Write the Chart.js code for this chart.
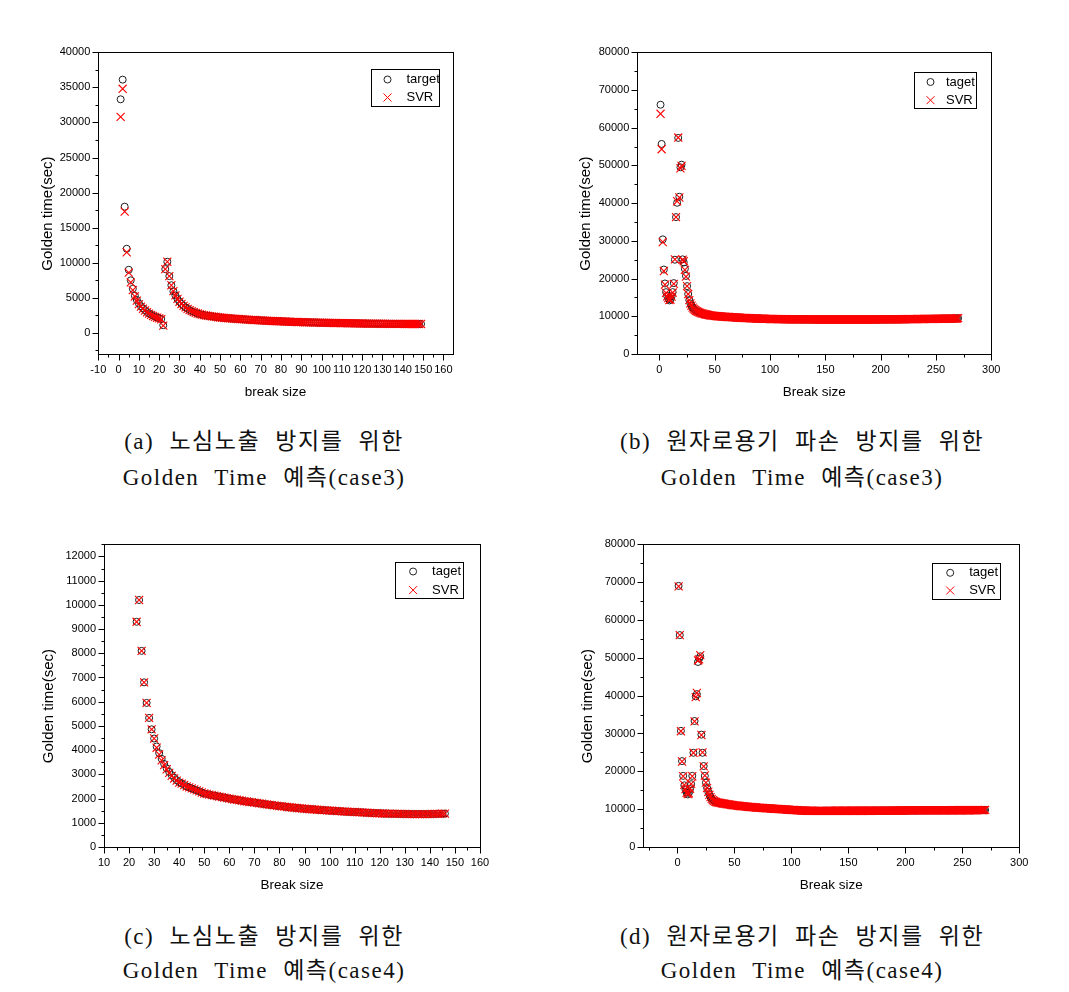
<!DOCTYPE html>
<html>
<head>
<meta charset="utf-8">
<script src="https://cdn.jsdelivr.net/npm/chart.js@4.4.0/dist/chart.umd.min.js"></script>
<style>
  body { margin: 0; background: #fff; width: 1069px; height: 992px; position: relative; overflow: hidden; }
  .panel { position: absolute; }
  .cap {
    position: absolute; width: 520px; margin-left: -260px; text-align: center;
    font-family: "Liberation Serif", "Noto Sans CJK KR", serif; font-size: 23px;
    letter-spacing: 1.5px; word-spacing: 8px; color: #111;
  }
</style>
</head>
<body>
<div class="panel" style="left:25px;top:40px"><canvas id="chartA" width="445" height="375"></canvas></div>
<div class="panel" style="left:565px;top:40px"><canvas id="chartB" width="445" height="375"></canvas></div>
<div class="panel" style="left:25px;top:530px"><canvas id="chartC" width="470" height="375"></canvas></div>
<div class="panel" style="left:565px;top:530px"><canvas id="chartD" width="470" height="375"></canvas></div>

<div class="cap" style="left:264px;top:424px;line-height:36px">(a) 노심노출 방지를 위한<br>Golden Time 예측(case3)</div>
<div class="cap" style="left:802px;top:424px;line-height:36px">(b) 원자로용기 파손 방지를 위한<br>Golden Time 예측(case3)</div>
<div class="cap" style="left:264px;top:920px;line-height:34px">(c) 노심노출 방지를 위한<br>Golden Time 예측(case4)</div>
<div class="cap" style="left:802px;top:920px;line-height:34px">(d) 원자로용기 파손 방지를 위한<br>Golden Time 예측(case4)</div>

<script>
// break sizes are consecutive integers
const range = (from, to) => {
  const out = [];
  for (let v = from; v <= to; v++) out.push(v);
  return out;
};

// ---- (a) core exposure, case3 ----
const aHeadTarget = [33300, 36100, 18000, 12000, 9000, 7500, 6300, 5300, 4700, 4200, 3800,
  3500, 3250, 3000, 2800, 2600, 2450, 2300, 2200, 2100, 2000, 1100];
const aHeadSVR = [30800, 34800, 17300, 11500, 8600, 7200, 6100, 5200, 4600, 4100, 3750,
  3450, 3200, 2950, 2750, 2570, 2420, 2280, 2170, 2080, 1950, 1050];
const aTail = [9100, 10150, 8100, 6800, 5950, 5350, 4850, 4450,
  4130, 3870, 3640, 3440, 3260, 3110, 2980, 2870, 2770, 2680,
  2610, 2550, 2490, 2440, 2400, 2360, 2320, 2280, 2240, 2200,
  2170, 2140, 2110, 2090, 2070, 2050, 2030, 2010, 1990, 1970,
  1950, 1930, 1910, 1890, 1870, 1850, 1840, 1820, 1800, 1790,
  1770, 1760, 1740, 1730, 1710, 1700, 1690, 1670, 1660, 1650,
  1640, 1630, 1610, 1600, 1590, 1580, 1570, 1560, 1550, 1540,
  1530, 1520, 1510, 1510, 1500, 1490, 1480, 1470, 1470, 1460,
  1450, 1450, 1440, 1430, 1430, 1420, 1420, 1410, 1400, 1400,
  1390, 1390, 1380, 1380, 1370, 1370, 1360, 1360, 1350, 1350,
  1340, 1340, 1340, 1330, 1330, 1320, 1320, 1320, 1310, 1310,
  1310, 1300, 1300, 1300, 1300, 1290, 1290, 1290, 1290, 1290,
  1280, 1280, 1280, 1280, 1280, 1280, 1280, 1280, 1280];
const aX = range(1, 149);
const aTarget = aHeadTarget.concat(aTail);
const aSVR = aHeadSVR.concat(aTail);
const aXTicks = [-10, 0, 10, 20, 30, 40, 50, 60, 70, 80, 90, 100, 110, 120, 130, 140, 150, 160];
const aYTicks = [0, 5000, 10000, 15000, 20000, 25000, 30000, 35000, 40000];

// ---- (b) vessel failure, case3 ----
const bHeadTarget = [66100, 55700, 30400, 22400, 18700, 16400, 15400, 14700, 14200, 14500, 15300, 16400,
  18800, 25000, 36300, 40100, 57300, 41700, 49500, 50200, 25100, 24300, 22600, 20700];
const bHeadSVR = [63700, 54300, 29700, 22000, 18400, 16200, 15300, 14800, 14300, 14400, 15200, 16300,
  18600, 25100, 36300, 40500, 57400, 41500, 49200, 49900, 25000, 24600, 22300, 20500];
const bTail = [18000, 15900, 14300, 13400, 12800, 12300,
  11950, 11700, 11480, 11300, 11150, 11020, 10900, 10800, 10700, 10620,
  10550, 10480, 10420, 10360, 10310, 10260, 10210, 10170, 10130, 10090,
  10060, 10030, 10000, 9980, 9960, 9940, 9920, 9900, 9880, 9860,
  9840, 9820, 9800, 9780, 9760, 9740, 9720, 9710, 9690, 9670,
  9650, 9630, 9620, 9600, 9580, 9570, 9550, 9540, 9520, 9510,
  9500, 9480, 9470, 9460, 9440, 9430, 9420, 9410, 9400, 9390,
  9380, 9370, 9360, 9350, 9340, 9330, 9320, 9310, 9300, 9290,
  9280, 9280, 9270, 9260, 9260, 9250, 9250, 9240, 9240, 9230,
  9230, 9220, 9220, 9210, 9210, 9200, 9200, 9200, 9190, 9190,
  9190, 9190, 9180, 9180, 9180, 9180, 9180, 9170, 9170, 9170,
  9170, 9170, 9170, 9160, 9160, 9160, 9160, 9160, 9160, 9160,
  9160, 9150, 9150, 9150, 9150, 9150, 9150, 9150, 9150, 9150,
  9150, 9150, 9150, 9150, 9150, 9150, 9150, 9150, 9150, 9150,
  9150, 9150, 9150, 9150, 9150, 9150, 9150, 9150, 9150, 9150,
  9150, 9150, 9150, 9150, 9150, 9150, 9150, 9150, 9150, 9150,
  9150, 9150, 9150, 9150, 9150, 9150, 9150, 9150, 9150, 9150,
  9150, 9150, 9150, 9150, 9150, 9160, 9160, 9160, 9160, 9160,
  9160, 9160, 9170, 9170, 9170, 9170, 9170, 9180, 9180, 9180,
  9180, 9190, 9190, 9190, 9200, 9200, 9200, 9210, 9210, 9210,
  9220, 9220, 9230, 9230, 9230, 9240, 9240, 9250, 9250, 9250,
  9260, 9260, 9270, 9270, 9270, 9280, 9280, 9290, 9290, 9290,
  9300, 9300, 9310, 9310, 9310, 9320, 9320, 9330, 9330, 9330,
  9340, 9340, 9350, 9350, 9350, 9360, 9360, 9370, 9370, 9370,
  9380, 9380, 9390, 9390, 9390, 9400, 9400, 9410, 9420, 9500];
const bX = range(1, 270);
const bTarget = bHeadTarget.concat(bTail);
const bSVR = bHeadSVR.concat(bTail);
const bXTicks = [0, 50, 100, 150, 200, 250, 300];
const bYTicks = [0, 10000, 20000, 30000, 40000, 50000, 60000, 70000, 80000];

// ---- (c) core exposure, case4 ----
const cTarget = [9300, 10200, 8100, 6800, 5950, 5330, 4860, 4480,
  4150, 3880, 3640, 3430, 3250, 3100, 2970, 2860, 2760, 2680,
  2620, 2560, 2500, 2460, 2420, 2380, 2340, 2300, 2250, 2210,
  2190, 2160, 2140, 2120, 2100, 2080, 2060, 2040, 2020, 2000,
  1980, 1960, 1950, 1930, 1910, 1890, 1880, 1860, 1850, 1830,
  1820, 1800, 1790, 1770, 1760, 1740, 1730, 1720, 1700, 1690,
  1680, 1670, 1650, 1640, 1630, 1620, 1610, 1600, 1590, 1580,
  1570, 1560, 1560, 1550, 1540, 1530, 1520, 1520, 1510, 1500,
  1500, 1490, 1480, 1480, 1470, 1460, 1460, 1450, 1450, 1445,
  1440, 1430, 1430, 1420, 1415, 1410, 1400, 1400, 1395, 1390,
  1385, 1380, 1380, 1375, 1375, 1370, 1370, 1365, 1365, 1365,
  1360, 1360, 1360, 1360, 1360, 1360, 1360, 1360, 1360, 1360,
  1365, 1365, 1370, 1370, 1375, 1380];
const cSvrMid = [4100, 3820, 3580, 3380, 3210, 3060, 2940, 2830, 2740, 2660]; // x = 31..40
const cX = range(23, 146);
const cSVR = cTarget.slice(0, 8).concat(cSvrMid, cTarget.slice(18));
const cXTicks = [10, 20, 30, 40, 50, 60, 70, 80, 90, 100, 110, 120, 130, 140, 150, 160];
const cYTicks = [0, 1000, 2000, 3000, 4000, 5000, 6000, 7000, 8000, 9000, 10000, 11000, 12000];

// ---- (d) vessel failure, case4 ----
const dHeadTarget = [69000, 56000, 30700, 22700, 18800, 16300, 15200, 14400, 13900, 14300, 15300, 16600,
  18800, 24900, 33300, 39800, 40400, 48900, 49800, 50400, 29700, 24900, 21400, 18800];
const dHeadSVR = [68900, 56000, 30600, 22600, 18700, 16400, 15300, 14300, 14000, 14200, 15400, 16700,
  18700, 24900, 33200, 39600, 40700, 49300, 49600, 50700, 29600, 25000, 21300, 18900];
const dTail = [17000, 15600, 14600, 13800, 13200, 12700,
  12400, 12200, 12000, 11900, 11800, 11700, 11650, 11600, 11550, 11500,
  11450, 11400, 11350, 11300, 11250, 11200, 11150, 11100, 11060, 11020,
  10980, 10940, 10900, 10870, 10840, 10810, 10780, 10750, 10720, 10690,
  10660, 10630, 10600, 10570, 10540, 10510, 10490, 10460, 10440, 10420,
  10400, 10370, 10350, 10330, 10310, 10290, 10270, 10250, 10230, 10210,
  10190, 10170, 10150, 10130, 10110, 10090, 10070, 10050, 10030, 10010,
  9990, 9970, 9950, 9930, 9910, 9890, 9870, 9850, 9830, 9810,
  9790, 9770, 9750, 9730, 9710, 9690, 9670, 9650, 9640, 9630,
  9620, 9610, 9600, 9590, 9580, 9580, 9570, 9570, 9560, 9560,
  9560, 9560, 9560, 9560, 9560, 9560, 9560, 9560, 9560, 9560,
  9560, 9560, 9560, 9570, 9570, 9570, 9570, 9570, 9570, 9570,
  9570, 9570, 9570, 9570, 9570, 9570, 9570, 9570, 9570, 9570,
  9580, 9580, 9580, 9580, 9580, 9580, 9580, 9580, 9580, 9580,
  9590, 9590, 9590, 9590, 9590, 9590, 9590, 9590, 9590, 9590,
  9600, 9600, 9600, 9600, 9600, 9600, 9600, 9600, 9600, 9600,
  9620, 9620, 9620, 9620, 9620, 9620, 9620, 9620, 9620, 9620,
  9640, 9640, 9640, 9640, 9640, 9640, 9640, 9640, 9640, 9640,
  9660, 9660, 9660, 9660, 9660, 9660, 9660, 9660, 9660, 9660,
  9680, 9680, 9680, 9680, 9680, 9680, 9680, 9680, 9680, 9680,
  9690, 9690, 9690, 9690, 9690, 9690, 9690, 9690, 9690, 9690,
  9700, 9700, 9700, 9700, 9700, 9700, 9700, 9700, 9700, 9700,
  9710, 9710, 9710, 9710, 9710, 9710, 9710, 9710, 9710, 9710,
  9720, 9720, 9720, 9720, 9720, 9720, 9720, 9720, 9720, 9720,
  9730, 9730, 9740, 9740, 9740, 9750, 9750, 9750, 9760, 9800];
const dX = range(1, 270);
const dTarget = dHeadTarget.concat(dTail);
const dSVR = dHeadSVR.concat(dTail);
const dXTicks = [0, 50, 100, 150, 200, 250, 300];
const dYTicks = [0, 10000, 20000, 30000, 40000, 50000, 60000, 70000, 80000];

// ---- styling ----
const FONT = '"Liberation Sans", Arial, sans-serif';
const MAJOR_TICK = 6;
const MINOR_TICK = 3;
// trailing gap nudges the rotated title a little below the axis middle, like the original
const Y_TITLE = "Golden time(sec)\u00a0\u00a0\u00a0\u00a0\u00a0";

// Frame, minor ticks and the boxed legend
const framePlugin = {
  id: "frame",
  afterDraw(chart, args, opts) {
    const { ctx, chartArea: a } = chart;
    const left = Math.round(a.left) + 0.5;
    const top = Math.round(a.top) + 0.5;
    const right = Math.round(a.right) + 0.5;
    const bottom = Math.round(a.bottom) + 0.5;
    ctx.save();
    ctx.strokeStyle = "#000";
    ctx.lineWidth = 1;
    ctx.strokeRect(left, top, right - left, bottom - top);

    // major + minor tick marks, outward
    ["x", "y"].forEach((key) => {
      const scale = chart.scales[key];
      const majors = scale.ticks.map((t) => t.value);
      const half = (majors[1] - majors[0]) / 2;
      const marks = majors.map((v) => [v, MAJOR_TICK]);
      marks.push([majors[0] - half, MINOR_TICK]);
      majors.forEach((v) => marks.push([v + half, MINOR_TICK]));
      ctx.beginPath();
      marks.forEach(([v, len]) => {
        if (v < scale.min || v > scale.max) return;
        const p = Math.round(scale.getPixelForValue(v)) + 0.5;
        if (key === "x") {
          ctx.moveTo(p, bottom);
          ctx.lineTo(p, bottom + len);
        } else {
          ctx.moveTo(left, p);
          ctx.lineTo(left - len, p);
        }
      });
      ctx.stroke();
    });

    // legend box
    const lg = opts;
    const bx = Math.round(a.right - lg.right - lg.width) + 0.5;
    const by = Math.round(a.top + lg.top) + 0.5;
    ctx.strokeStyle = "#000";
    ctx.strokeRect(bx, by, lg.width, lg.height);
    const mx = bx + lg.markX;
    const y1 = by + lg.row1;
    const y2 = by + lg.row2;
    ctx.beginPath();
    ctx.strokeStyle = "#222";
    ctx.arc(mx, y1, 3.5, 0, Math.PI * 2);
    ctx.stroke();
    ctx.beginPath();
    ctx.strokeStyle = "#ff0000";
    ctx.moveTo(mx - 4, y2 - 4);
    ctx.lineTo(mx + 4, y2 + 4);
    ctx.moveTo(mx + 4, y2 - 4);
    ctx.lineTo(mx - 4, y2 + 4);
    ctx.stroke();
    ctx.fillStyle = "#000";
    ctx.font = "13px " + FONT;
    ctx.textBaseline = "middle";
    ctx.fillText(lg.label, bx + lg.textX, y1);
    ctx.fillText("SVR", bx + lg.textX, y2);
    ctx.restore();
  },
};

function toPoints(xs, ys) {
  return xs.map((x, i) => ({ x: x, y: ys[i] }));
}

function makeChart(p) {
  const tickFont = { family: FONT, size: 11 };
  new Chart(document.getElementById(p.id), {
    type: "scatter",
    data: {
      datasets: [
        {
          label: p.legend.label,
          data: toPoints(p.x, p.target),
          pointStyle: "circle",
          pointRadius: 3.5,
          borderWidth: 1,
          borderColor: "#1e1e1e",
          backgroundColor: "rgba(0,0,0,0)",
          order: 2,
        },
        {
          label: "SVR",
          data: toPoints(p.x, p.svr),
          pointStyle: "crossRot",
          pointRadius: 5.7,
          borderWidth: 1.1,
          borderColor: "#ff0000",
          backgroundColor: "#ff0000",
          order: 1,
        },
      ],
    },
    options: {
      responsive: false,
      animation: false,
      events: [],
      layout: { padding: { top: p.padTop, right: p.padRight, left: 0, bottom: 0 } },
      plugins: {
        legend: { display: false },
        tooltip: { enabled: false },
        frame: p.legend,
      },
      scales: {
        x: {
          type: "linear",
          min: p.xMin,
          max: p.xMax,
          afterFit: (s) => { s.height = p.xH; },
          afterBuildTicks: (s) => { s.ticks = p.xTicks.map((v) => ({ value: v })); },
          border: { display: false },
          grid: { drawOnChartArea: false, tickLength: MAJOR_TICK, tickColor: "rgba(0,0,0,0)" },
          ticks: { font: tickFont, color: "#000", padding: 3, autoSkip: false, maxRotation: 0, callback: (v) => String(v) },
          title: {
            display: true,
            text: p.xTitle,
            color: "#000",
            font: { family: FONT, size: 13.5 },
            padding: { top: 0, bottom: p.xTitlePad },
          },
        },
        y: {
          type: "linear",
          min: p.yMin,
          max: p.yMax,
          afterFit: (s) => { s.width = p.yW; },
          afterBuildTicks: (s) => { s.ticks = p.yTicks.map((v) => ({ value: v })); },
          border: { display: false },
          grid: { drawOnChartArea: false, tickLength: MAJOR_TICK, tickColor: "rgba(0,0,0,0)" },
          ticks: { font: tickFont, color: "#000", padding: 2, autoSkip: false, callback: (v) => String(v) },
          title: {
            display: true,
            text: Y_TITLE,
            color: "#000",
            font: { family: FONT, size: 15 },
            padding: { top: p.yTitlePad, bottom: 0 },
          },
        },
      },
    },
    plugins: [framePlugin],
  });
}

const panels = [
  {
    id: "chartA", x: aX, target: aTarget, svr: aSVR, xTicks: aXTicks, yTicks: aYTicks,
    xMin: -10, xMax: 164.5, yMin: -3000, yMax: 40000, xTitle: "break size",
    padTop: 12.3, padRight: 17.5, yW: 73.3, xH: 61, yTitlePad: 13.5, xTitlePad: 14.9,
    legend: { label: "target", right: 14, top: 17, width: 68, height: 37, markX: 16, textX: 35, row1: 10, row2: 28 },
  },
  {
    id: "chartB", x: bX, target: bTarget, svr: bSVR, xTicks: bXTicks, yTicks: bYTicks,
    xMin: -20, xMax: 300, yMin: 0, yMax: 80000, xTitle: "Break size",
    padTop: 12.3, padRight: 18.7, yW: 72.3, xH: 61, yTitlePad: 12.3, xTitlePad: 14.9,
    legend: { label: "taget", right: 15, top: 20, width: 62, height: 36, markX: 16, textX: 31.5, row1: 9.5, row2: 27.7 },
  },
  {
    id: "chartC", x: cX, target: cTarget, svr: cSVR, xTicks: cXTicks, yTicks: cYTicks,
    xMin: 10, xMax: 160, yMin: 0, yMax: 12500, xTitle: "Break size",
    padTop: 14.3, padRight: 15, yW: 79, xH: 58, yTitlePad: 15, xTitlePad: 11.2,
    legend: { label: "taget", right: 16.7, top: 17.4, width: 68, height: 36, markX: 17.6, textX: 36.6, row1: 9, row2: 27.6 },
  },
  {
    id: "chartD", x: dX, target: dTarget, svr: dSVR, xTicks: dXTicks, yTicks: dYTicks,
    xMin: -30, xMax: 300, yMin: 0, yMax: 80000, xTitle: "Break size",
    padTop: 14.3, padRight: 15.7, yW: 78.3, xH: 58, yTitlePad: 14.3, xTitlePad: 11.9,
    legend: { label: "taget", right: 19, top: 19, width: 68, height: 36, markX: 17.7, textX: 36.7, row1: 9.3, row2: 27 },
  },
];

panels.forEach(makeChart);
</script>
</body>
</html>
